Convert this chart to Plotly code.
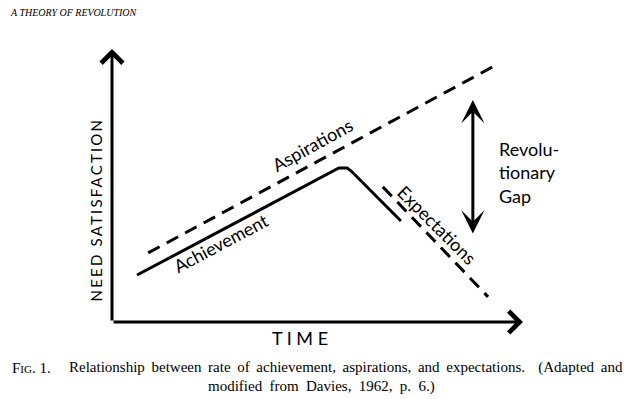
import plotly.graph_objects as go

# Conceptual data (time 0-100, need satisfaction 0-100)
achievement_time = [6.1, 54.3, 55.2, 57.2, 58.2, 70.3]
achievement_level = [17.2, 55.7, 56.4, 56.4, 55.3, 37.0]

aspirations_time = [8.8, 93.9]
aspirations_level = [25.3, 94.5]

expectations_time = [65.9, 91.5]
expectations_level = [49.5, 9.2]

gap_time = 87.8
gap_top = 81.3
gap_bottom = 31.9

axis_max = 100

LABEL_FONT = "Lato"
SERIF = "Liberation Serif"

fig = go.Figure()

fig.add_trace(go.Scatter(x=achievement_time, y=achievement_level, mode="lines",
                         line=dict(color="black", width=3), showlegend=False, hoverinfo="skip"))
fig.add_trace(go.Scatter(x=aspirations_time, y=aspirations_level, mode="lines",
                         line=dict(color="black", width=3, dash="13px,8px"), showlegend=False, hoverinfo="skip"))
fig.add_trace(go.Scatter(x=expectations_time, y=expectations_level, mode="lines",
                         line=dict(color="black", width=3, dash="13px,8px"), showlegend=False, hoverinfo="skip"))

ann = []
# axes with arrows
ann.append(dict(x=0, y=axis_max, ax=0, ay=0, xref="x", yref="y", axref="x", ayref="y",
                showarrow=True, arrowhead=4, arrowsize=1.4, arrowwidth=3, arrowcolor="black", text=""))
ann.append(dict(x=axis_max, y=0, ax=0, ay=0, xref="x", yref="y", axref="x", ayref="y",
                showarrow=True, arrowhead=4, arrowsize=1.4, arrowwidth=3, arrowcolor="black", text=""))
# revolutionary gap double arrow
ann.append(dict(x=gap_time, y=gap_top, ax=gap_time, ay=gap_bottom, xref="x", yref="y", axref="x", ayref="y",
                showarrow=True, arrowhead=3, startarrowhead=3, arrowside="end+start",
                arrowsize=1.3, startarrowsize=1.3, arrowwidth=3, arrowcolor="black", text=""))

# line labels
ann.append(dict(x=48.7, y=64.8, xref="x", yref="y", text="Aspirations", showarrow=False,
                textangle=-29, font=dict(family=LABEL_FONT, size=18, color="black")))
ann.append(dict(x=26.5, y=28.9, xref="x", yref="y", text="Achievement", showarrow=False,
                textangle=-28, font=dict(family=LABEL_FONT, size=18, color="black")))
ann.append(dict(x=79.1, y=35.5, xref="x", yref="y", text="Expectations", showarrow=False,
                textangle=45, font=dict(family=LABEL_FONT, size=18, color="black")))
ann.append(dict(x=93.7, y=54.6, xref="x", yref="y", text="Revolu-<br>tionary<br>Gap", showarrow=False,
                xanchor="left", align="left", font=dict(family=LABEL_FONT, size=18, color="black")))

# axis titles
ann.append(dict(x=-3.9, y=41.2, xref="x", yref="y",
                text="<span style='letter-spacing:2.2px'>NEED SATISFACTION</span>", showarrow=False,
                textangle=-90, font=dict(family=LABEL_FONT, size=15, color="black")))
ann.append(dict(x=45.7, y=-5.9, xref="x", yref="y", text="T I M E", showarrow=False,
                font=dict(family=LABEL_FONT, size=18, color="black")))

# header
ann.append(dict(x=-25.3, y=113.2, xref="x", yref="y", text="<i>A THEORY OF REVOLUTION</i>", showarrow=False,
                xanchor="left", font=dict(family=SERIF, size=10, color="black")))

# caption
ann.append(dict(x=-24.8, y=-16.8, xref="x", yref="y",
                text="F<span style='font-size:11px'>IG</span>.\u00a01.", showarrow=False,
                xanchor="left", font=dict(family=SERIF, size=15, color="black")))
ann.append(dict(x=124.8, y=-16.8, xref="x", yref="y",
                text="<span style='word-spacing:2.9px'>Relationship between rate of achievement, aspirations, and expectations.\u00a0 (Adapted and</span>",
                showarrow=False, xanchor="right", font=dict(family=SERIF, size=15, color="black")))
ann.append(dict(x=50.9, y=-23.8, xref="x", yref="y",
                text="<span style='word-spacing:3.6px'>modified from Davies, 1962, p. 6.)</span>",
                showarrow=False, font=dict(family=SERIF, size=15, color="black")))

# axes span the full figure: origin at pixel (112, 322), 4.11 px per time unit, 2.73 px per level unit
px_per_x = 4.11
px_per_y = 2.73
x_range = [-112 / px_per_x, (640 - 112) / px_per_x]
y_range = [-(399 - 322) / px_per_y, 322 / px_per_y]

fig.update_layout(
    width=640, height=399,
    margin=dict(l=0, r=0, t=0, b=0, pad=0),
    paper_bgcolor="white", plot_bgcolor="white",
    xaxis=dict(range=x_range, visible=False, fixedrange=True),
    yaxis=dict(range=y_range, visible=False, fixedrange=True),
    annotations=ann,
    showlegend=False,
)

fig.write_html("out.html", config={"displayModeBar": False},
               post_script="document.body.style.margin='0';")
